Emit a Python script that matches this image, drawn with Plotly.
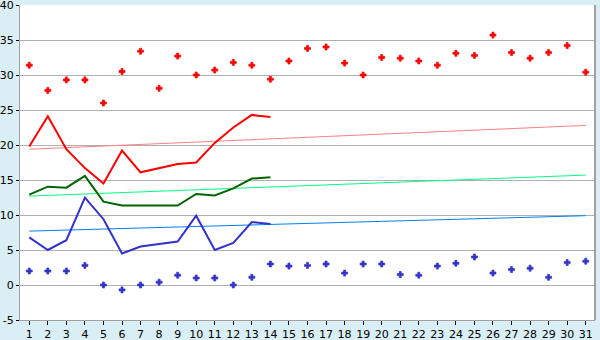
import plotly.graph_objects as go

days = list(range(1, 32))
days_line = list(range(1, 15))

max_points = [31.4, 27.8, 29.3, 29.3, 26.0, 30.5, 33.4, 28.1, 32.7, 30.0,
              30.7, 31.8, 31.4, 29.4, 32.0, 33.8, 34.0, 31.7, 30.0, 32.5,
              32.4, 32.0, 31.4, 33.1, 32.8, 35.7, 33.2, 32.4, 33.2, 34.2, 30.4]
min_points = [2.0, 2.0, 2.0, 2.8, 0.0, -0.7, 0.0, 0.4, 1.4, 1.0,
              1.0, 0.0, 1.1, 3.0, 2.7, 2.8, 3.0, 1.7, 3.0, 3.0,
              1.5, 1.4, 2.7, 3.1, 4.0, 1.7, 2.2, 2.4, 1.1, 3.2, 3.4]

red_line = [19.8, 24.1, 19.4, 16.7, 14.5, 19.2, 16.1, 16.7, 17.3, 17.5,
            20.3, 22.5, 24.3, 24.0]
green_line = [12.9, 14.05, 13.9, 15.6, 11.9, 11.35, 11.35, 11.35, 11.35, 13.0,
              12.8, 13.8, 15.2, 15.4]
blue_line = [6.8, 5.0, 6.4, 12.5, 9.4, 4.5, 5.5, 5.9, 6.2, 9.9,
             5.0, 6.0, 9.0, 8.7]

trend_days = [1, 31]
trend_red = [19.4, 22.8]
trend_green = [12.7, 15.7]
trend_blue = [7.7, 9.9]

y_ticks = list(range(-5, 41, 5))
y_labels = [str(v) for v in y_ticks]

fig = go.Figure()

fig.add_trace(go.Scatter(x=trend_days, y=trend_red, mode="lines",
                         line=dict(color="#FF8080", width=1)))
fig.add_trace(go.Scatter(x=trend_days, y=trend_green, mode="lines",
                         line=dict(color="#00FF80", width=1)))
fig.add_trace(go.Scatter(x=trend_days, y=trend_blue, mode="lines",
                         line=dict(color="#0080FF", width=1)))

fig.add_trace(go.Scatter(x=days_line, y=red_line, mode="lines",
                         line=dict(color="#FF0000", width=2)))
fig.add_trace(go.Scatter(x=days_line, y=green_line, mode="lines",
                         line=dict(color="#006400", width=2)))
fig.add_trace(go.Scatter(x=days_line, y=blue_line, mode="lines",
                         line=dict(color="#3333CC", width=2)))

fig.add_trace(go.Scatter(x=days, y=max_points, mode="markers",
                         marker=dict(symbol="cross", size=5, color="#FF0000",
                                     line=dict(width=0.7, color="#FF0000"))))
fig.add_trace(go.Scatter(x=days, y=min_points, mode="markers",
                         marker=dict(symbol="cross", size=5, color="#3333CC",
                                     line=dict(width=0.7, color="#3333CC"))))

fig.update_layout(
    width=600, height=340,
    margin=dict(l=20, r=5, t=5, b=20, autoexpand=False),
    paper_bgcolor="#D9EFF5",
    plot_bgcolor="#FFFFFF",
    showlegend=False,
    font=dict(family="DejaVu Sans", size=11, color="#000000"),
)
fig.update_xaxes(
    range=[0.5, 31.5], tickmode="array", tickvals=days,
    ticktext=[str(d) for d in days],
    showgrid=False, zeroline=False, automargin=False,
    ticks="outside", ticklen=4, tickcolor="#000000",
    ticklabelstandoff=0, ticklabeloverflow="allow",
    showline=True, linecolor="#A0A0A0", linewidth=1, mirror=False,
    tickfont=dict(size=11),
)
fig.update_yaxes(
    range=[-5, 40], tickmode="array", tickvals=y_ticks, ticktext=y_labels,
    showgrid=True, gridcolor="#B0B0B0", gridwidth=1,
    zeroline=False, automargin=False,
    ticks="outside", ticklen=3, tickcolor="#000000",
    ticklabelstandoff=0, ticklabeloverflow="allow",
    showline=True, linecolor="#A0A0A0", linewidth=1,
    tickfont=dict(size=11),
)
fig.add_shape(type="line", xref="paper", yref="paper", x0=1, x1=1, y0=0, y1=1,
              line=dict(color="#A0A0A0", width=2))

fig.write_html("out.html")
